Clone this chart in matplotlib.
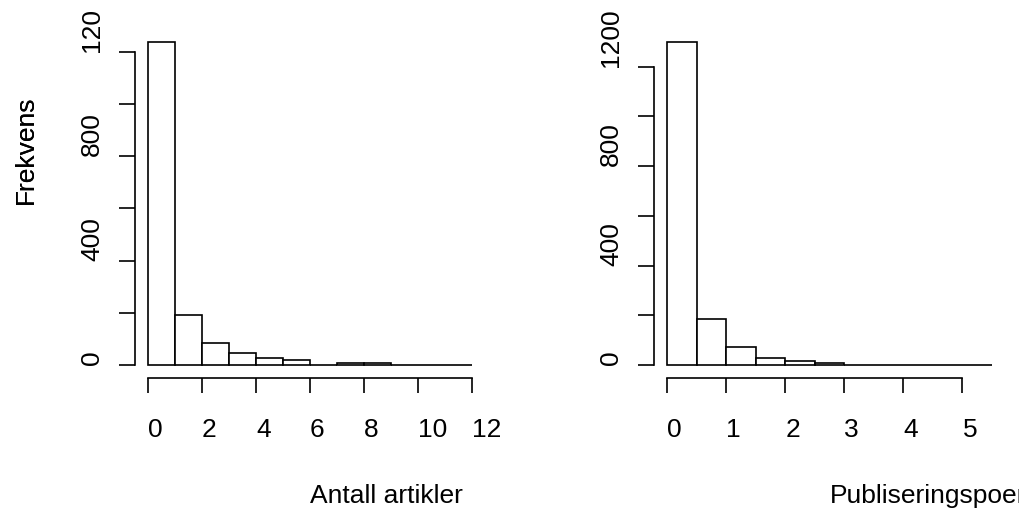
import numpy as np
import matplotlib
matplotlib.use('Agg')
import matplotlib.pyplot as plt
from matplotlib.transforms import Bbox, TransformedBbox

plt.rcParams['font.family'] = ['Liberation Sans', 'DejaVu Sans']

# histogram counts
artikler_edges = np.arange(0, 13, 1)
artikler_counts = [1237, 190, 85, 47, 28, 18, 0, 8, 8, 1, 1, 1]
artikler_xticks = [0, 2, 4, 6, 8, 10, 12]

poeng_edges = np.arange(0, 5.51, 0.5)
poeng_counts = [1300, 184, 74, 27, 15, 7, 1, 1, 1, 0, 1]
poeng_xticks = [0, 1, 2, 3, 4, 5]

yticks = [0, 200, 400, 600, 800, 1000, 1200]
ylabels = ['0', '', '400', '', '800', '', '1200']

panels = [
    (artikler_edges, artikler_counts, artikler_xticks, 'Antall artikler'),
    (poeng_edges, poeng_counts, poeng_xticks, 'Publiseringspoeng'),
]

W, H = 1019, 514
fig = plt.figure(figsize=(W / 100, H / 100), dpi=100)
# plot regions in pixels (left, top, right, bottom)
regions = [(135, 29, 485, 378), (654, 29, 1005, 378)]
clip = TransformedBbox(Bbox([[0, 0], [1, 1 - 12 / H]]), fig.transFigure)

fs = 19
lw = 1.2
for (edges, counts, xt, xlab), (l, t, r, b) in zip(panels, regions):
    ax = fig.add_axes([l / W, 1 - b / H, (r - l) / W, (b - t) / H])
    binw = edges[1] - edges[0]
    ax.bar(edges[:-1], counts, width=binw, align='edge',
           facecolor='white', edgecolor='black', linewidth=lw)
    ymax = max(counts)
    xmin, xmax = edges[0], edges[-1]
    ax.set_xlim(xmin - 0.04 * (xmax - xmin), xmax + 0.04 * (xmax - xmin))
    ax.set_ylim(-0.04 * ymax, 1.04 * ymax)

    for s in ['top', 'right']:
        ax.spines[s].set_visible(False)
    ax.spines['left'].set_bounds(yticks[0], yticks[-1])
    ax.spines['bottom'].set_bounds(xt[0], xt[-1])
    for s in ['left', 'bottom']:
        ax.spines[s].set_linewidth(lw)

    ax.set_xticks(xt)
    ax.set_xticklabels([str(v) for v in xt], ha='left', fontsize=fs)
    ax.set_yticks(yticks)
    ax.set_yticklabels(ylabels, rotation=90, va='bottom', fontsize=fs)
    ax.tick_params(axis='x', direction='out', length=10.8, width=lw, pad=18)
    ax.tick_params(axis='y', direction='out', length=11.2, width=lw, pad=11)
    for lab in ax.get_yticklabels():
        lab.set_clip_on(True)
        lab.set_clip_box(clip)

    ax.set_xlabel(xlab, fontsize=fs, ha='left', va='baseline')
    ax.xaxis.set_label_coords(0.5, -(503 - b) / (b - t))
    ax.set_ylabel('Frekvens', fontsize=fs, ha='left', va='baseline')
    ax.yaxis.set_label_coords(-(l - 33) / (r - l), 0.5)

plt.savefig('out.png', dpi=100)
